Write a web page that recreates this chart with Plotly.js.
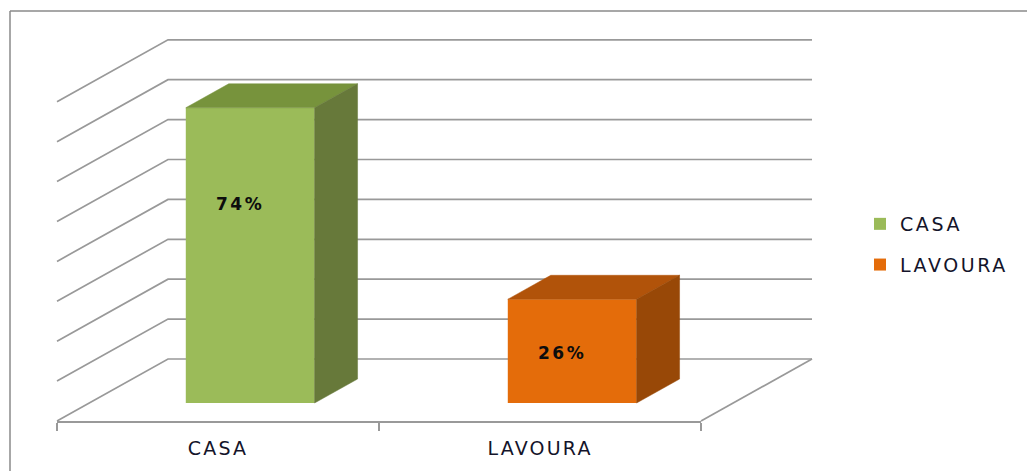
<!DOCTYPE html>
<html><head><meta charset="utf-8">
<script src="https://cdn.plot.ly/plotly-3.0.1.min.js"></script>
<style>
html,body{margin:0;padding:0;background:#fff;}
#chart{width:1027px;height:471px;}
.x2tick text, text.x2tick {letter-spacing:2.2px;}
text.legendtext {letter-spacing:2.6px;}
.annotation-text{letter-spacing:2.5px;}
</style></head><body><div id="chart"></div>
<script>
// ---- data ----
const categories = ['CASA', 'LAVOURA'];
const values = [0.74, 0.26];
const gridTicks = [0, 0.1, 0.2, 0.3, 0.4, 0.5, 0.6, 0.7, 0.8];

// ---- styles ----
const frontColors = ['#9BBB59', '#E46C0A'];
const topColors = ['#77933C', '#B1530A'];
const sideColors = ['#67793A', '#984807'];
const labelYFrac = [0.674, 0.482];
const gridColor = '#999999';

// ---- projection of the 3-D box onto the 2-D axes ----
const W = 1027, H = 471;
const CAT_PX = 322, CAT0_PX = 218;       // px per category, centre of first category on front edge
const V_PX = 399, FLOOR_PX = 359;        // px per unit value, back floor line
const DX = 111 / CAT_PX, DY = 62 / V_PX; // full depth offset in axis units
const D1 = 0.29, D2 = 0.677;             // bar front / back depth (0 = front, 1 = back wall)
const BAR_W = 0.4;

function P(c, d, v) { return [c + d * DX, v - (1 - d) * DY]; }

const cL = -0.5, cR = categories.length - 0.5;
const traces = [];

// back wall + left wall gridlines
const gx = [], gy = [];
gridTicks.forEach(g => {
  [P(cL, 0, g), P(cL, 1, g), P(cR, 1, g)].forEach(p => { gx.push(p[0]); gy.push(p[1]); });
  gx.push(null); gy.push(null);
});
// floor right edge
[P(cR, 0, 0), P(cR, 1, 0)].forEach(p => { gx.push(p[0]); gy.push(p[1]); });
traces.push({type: 'scatter', mode: 'lines', x: gx, y: gy, xaxis: 'x', yaxis: 'y',
  line: {color: gridColor, width: 1.7}, showlegend: false, hoverinfo: 'skip'});

// invisible helper for the category axis
traces.push({type: 'scatter', mode: 'markers', x: categories, y: categories.map(() => 0),
  xaxis: 'x2', yaxis: 'y', marker: {opacity: 0}, showlegend: false, hoverinfo: 'skip'});

// bar front faces
categories.forEach((cat, i) => {
  traces.push({type: 'bar', name: cat, x: [i + D1 * DX], y: [values[i]], base: [-(1 - D1) * DY],
    width: [BAR_W], xaxis: 'x3', yaxis: 'y3', legendgroup: cat,
    marker: {color: frontColors[i], line: {width: 0}}, hoverinfo: 'skip'});
});

// bar top and side faces
function poly(pts, color) {
  const xs = pts.map(p => p[0]), ys = pts.map(p => p[1]);
  xs.push(xs[0]); ys.push(ys[0]);
  return {type: 'scatter', mode: 'lines', x: xs, y: ys, fill: 'toself', fillcolor: color,
    line: {color: color, width: 0.5}, xaxis: 'x3', yaxis: 'y3', showlegend: false, hoverinfo: 'skip'};
}
categories.forEach((cat, i) => {
  const xl = i - BAR_W / 2, xr = i + BAR_W / 2, v = values[i];
  traces.push(poly([P(xl, D1, v), P(xr, D1, v), P(xr, D2, v), P(xl, D2, v)], topColors[i]));
  traces.push(poly([P(xr, D1, v), P(xr, D2, v), P(xr, D2, 0), P(xr, D1, 0)], sideColors[i]));
});

const xRange = [-CAT0_PX / CAT_PX, (W - CAT0_PX) / CAT_PX];
const yRange = [(FLOOR_PX - H) / V_PX, FLOOR_PX / V_PX];
const frontFloorPx = FLOOR_PX + DY * V_PX;

const annotations = categories.map((cat, i) => ({
  xref: 'x3', yref: 'y3', x: i + D1 * DX, y: -(1 - D1) * DY + values[i] * labelYFrac[i],
  xshift: -10, text: Math.round(values[i] * 100) + '%', showarrow: false,
  font: {family: 'DejaVu Sans', size: 17, weight: 'bold', color: '#0d0d0d'}
}));

const borderColor = '#8a8a8a';
const layout = {
  width: W, height: H, margin: {l: 0, r: 0, t: 0, b: 0},
  paper_bgcolor: '#ffffff', plot_bgcolor: 'rgba(0,0,0,0)',
  barmode: 'overlay', showlegend: true,
  xaxis: {range: xRange, visible: false, fixedrange: true},
  yaxis: {range: yRange, visible: false, fixedrange: true},
  xaxis3: {range: xRange, visible: false, overlaying: 'x', fixedrange: true},
  yaxis3: {range: yRange, visible: false, overlaying: 'y', fixedrange: true},
  xaxis2: {
    type: 'category', range: [cL, cR],
    domain: [(CAT0_PX + cL * CAT_PX) / W, (CAT0_PX + cR * CAT_PX) / W],
    anchor: 'free', position: (H - frontFloorPx) / H,
    tickson: 'boundaries', ticks: 'outside', ticklen: 8, tickwidth: 1.5, tickcolor: gridColor,
    showline: true, linecolor: gridColor, linewidth: 1.7, showgrid: false, zeroline: false,
    ticklabelstandoff: 9, fixedrange: true,
    tickfont: {family: 'DejaVu Sans', size: 19, color: '#14142a'}
  },
  legend: {
    x: 860 / W, y: 1 - 244.5 / H, xanchor: 'left', yanchor: 'middle',
    font: {family: 'DejaVu Sans', size: 19, color: '#14142a'},
    traceorder: 'grouped', tracegroupgap: 13, bgcolor: 'rgba(0,0,0,0)'
  },
  annotations: annotations,
  shapes: [
    {type: 'line', xref: 'paper', yref: 'paper', x0: 10 / W, x1: 1, y0: 1 - 11 / H, y1: 1 - 11 / H,
      line: {color: borderColor, width: 1.5}},
    {type: 'line', xref: 'paper', yref: 'paper', x0: 10 / W, x1: 10 / W, y0: 1 - 11 / H, y1: 0,
      line: {color: borderColor, width: 1.5}}
  ]
};

Plotly.newPlot('chart', traces, layout, {displayModeBar: false, staticPlot: true});
</script></body></html>
